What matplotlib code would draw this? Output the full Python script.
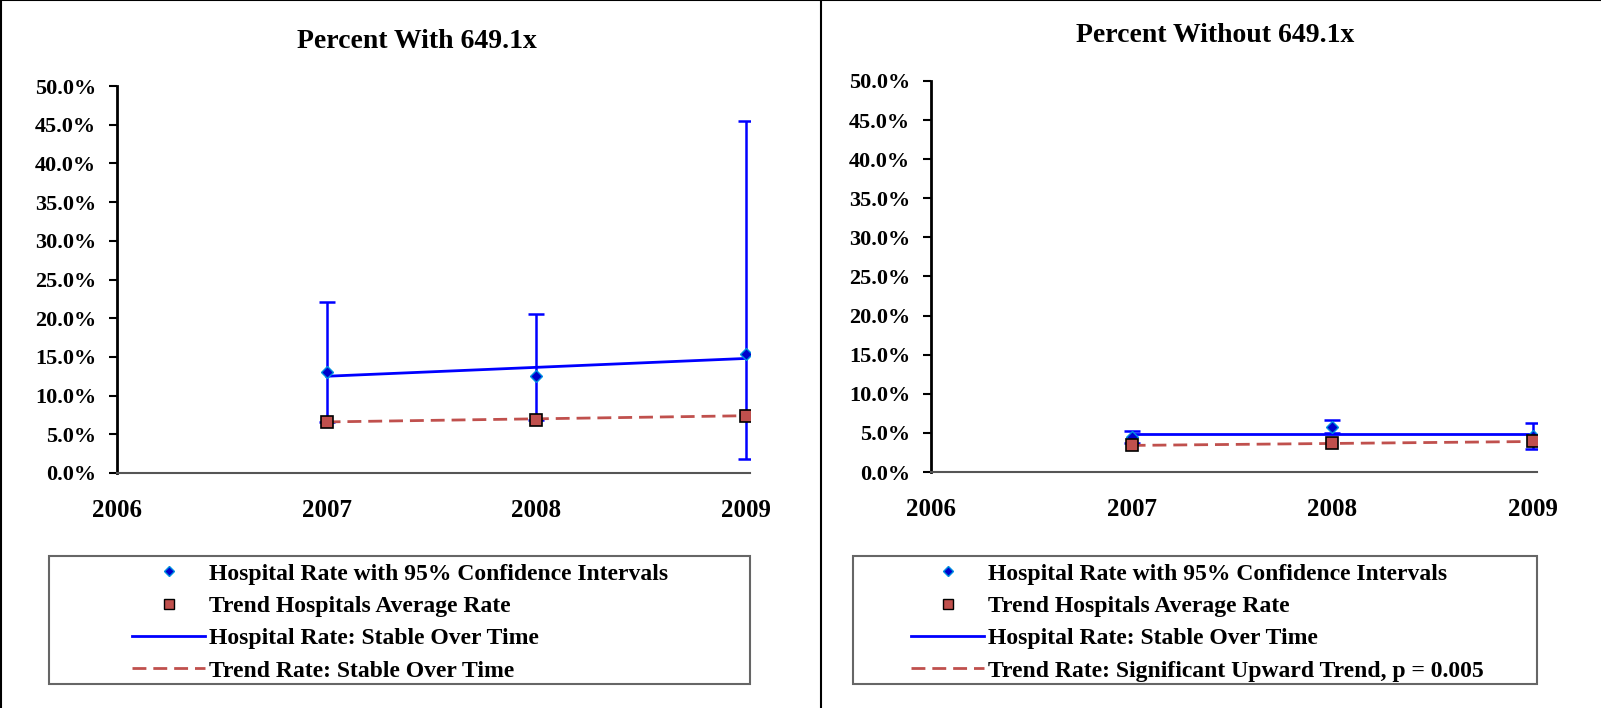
import matplotlib
matplotlib.use("Agg")
import matplotlib.pyplot as plt
from matplotlib.lines import Line2D
from matplotlib.patches import Rectangle
from matplotlib.ticker import FuncFormatter

plt.rcParams['font.family'] = 'Liberation Serif'
plt.rcParams['font.weight'] = 'bold'

years = [2007, 2008, 2009]
year_ticks = [2006, 2007, 2008, 2009]

# Percent With 649.1x
with_rate = [13.0, 12.5, 15.4]
with_upper = [22.1, 20.6, 45.5]
with_lower = [6.6, 6.9, 1.8]
with_avg = [6.6, 6.85, 7.4]
with_hosp_trend = [12.5, 13.65, 14.8]
with_avg_trend = [6.6, 7.0, 7.4]

# Percent Without 649.1x
without_rate = [4.5, 5.8, 4.6]
without_upper = [5.2, 6.7, 6.3]
without_lower = [3.75, 5.0, 3.0]
without_avg = [3.4, 3.7, 4.0]
without_hosp_trend = [4.86, 4.86, 4.86]
without_avg_trend = [3.4, 3.65, 3.9]

panels = [
    dict(title='Percent With 649.1x', rate=with_rate, upper=with_upper, lower=with_lower,
         avg=with_avg, htrend=with_hosp_trend, atrend=with_avg_trend,
         trend_label='Trend Rate: Stable Over Time',
         rect=[117/1601, 1-473/708, 633/1601, 387/708], title_xy=(417/1601, 1-42/708),
         leg_box=(49/1601, 1-684/708, 701/1601, 128/708), leg_x=132/1601),
    dict(title='Percent Without 649.1x', rate=without_rate, upper=without_upper, lower=without_lower,
         avg=without_avg, htrend=without_hosp_trend, atrend=without_avg_trend,
         trend_label='Trend Rate: Significant Upward Trend, p = 0.005',
         rect=[931/1601, 1-472/708, 606/1601, 391/708], title_xy=(1215/1601, 1-36/708),
         leg_box=(853/1601, 1-684/708, 684/1601, 128/708), leg_x=911/1601),
]

fig = plt.figure(figsize=(16.01, 7.08), dpi=100)

blue = '#0000FF'
red = '#C0504D'

for p in panels:
    ax = fig.add_axes(p['rect'])
    yerr = [[r - lo for r, lo in zip(p['rate'], p['lower'])],
            [up - r for r, up in zip(p['rate'], p['upper'])]]
    ax.errorbar(years, p['rate'], yerr=yerr, fmt='none', ecolor=blue,
                elinewidth=1.8, capsize=6, capthick=1.8, zorder=2)
    ax.plot(years, p['htrend'], color=blue, lw=2, zorder=3)
    ax.plot(years, p['atrend'], color=red, lw=2, dashes=(5, 2.5), zorder=3)
    ax.plot(years, p['rate'], linestyle='none', marker='D', ms=6,
            mfc='#0000CC', mec='#0090E0', mew=1, zorder=4)
    ax.plot(years, p['avg'], linestyle='none', marker='s', ms=8,
            mfc=red, mec='black', mew=1.2, zorder=5)

    ax.set_xlim(2006, 2009.02)
    ax.set_ylim(0, 50)
    ax.set_yticks(range(0, 51, 5))
    ax.yaxis.set_major_formatter(FuncFormatter(lambda v, pos: f'{v:.1f}%'))
    ax.set_xticks(year_ticks)
    ax.tick_params(axis='y', direction='out', length=6, width=1.5, labelsize=16, pad=9)
    ax.tick_params(axis='x', length=0, labelsize=18, pad=19)
    for lbl in ax.get_xticklabels() + ax.get_yticklabels():
        lbl.set_fontweight('bold')
    ax.spines['top'].set_visible(False)
    ax.spines['right'].set_visible(False)
    ax.spines['left'].set_linewidth(2)
    ax.spines['bottom'].set_color('#555555')
    ax.spines['bottom'].set_linewidth(1.5)

    fig.text(p['title_xy'][0], p['title_xy'][1], p['title'], ha='center', va='center',
             fontsize=20, fontweight='bold')

    bx, by, bw, bh = p['leg_box']
    fig.add_artist(Rectangle((bx, by), bw, bh, transform=fig.transFigure,
                             fill=False, edgecolor='#666666', lw=1.5))
    handles = [
        Line2D([], [], linestyle='none', marker='D', ms=5, mfc='#0000CC', mec='#0090E0'),
        Line2D([], [], linestyle='none', marker='s', ms=7, mfc=red, mec='black'),
        Line2D([], [], color=blue, lw=2),
        Line2D([], [], color=red, lw=2, dashes=(5, 2.5)),
    ]
    labels = ['Hospital Rate with 95% Confidence Intervals', 'Trend Hospitals Average Rate',
              'Hospital Rate: Stable Over Time', p['trend_label']]
    fig.legend(handles, labels, loc='upper left', bbox_to_anchor=(p['leg_x'], 1 - 563/708),
               frameon=False, prop={'family': 'Liberation Serif', 'weight': 'bold', 'size': 17},
               handlelength=3.1, handletextpad=0.15, labelspacing=0.46,
               borderpad=0, borderaxespad=0)

# panel borders
fig.add_artist(Line2D([0.0007, 0.0007], [0, 1], transform=fig.transFigure, color='black', lw=1.5))
fig.add_artist(Line2D([0, 1], [0.9993, 0.9993], transform=fig.transFigure, color='black', lw=1.5))
fig.add_artist(Line2D([821/1601, 821/1601], [0, 1], transform=fig.transFigure, color='black', lw=1.5))

fig.savefig('out.png', dpi=100)
